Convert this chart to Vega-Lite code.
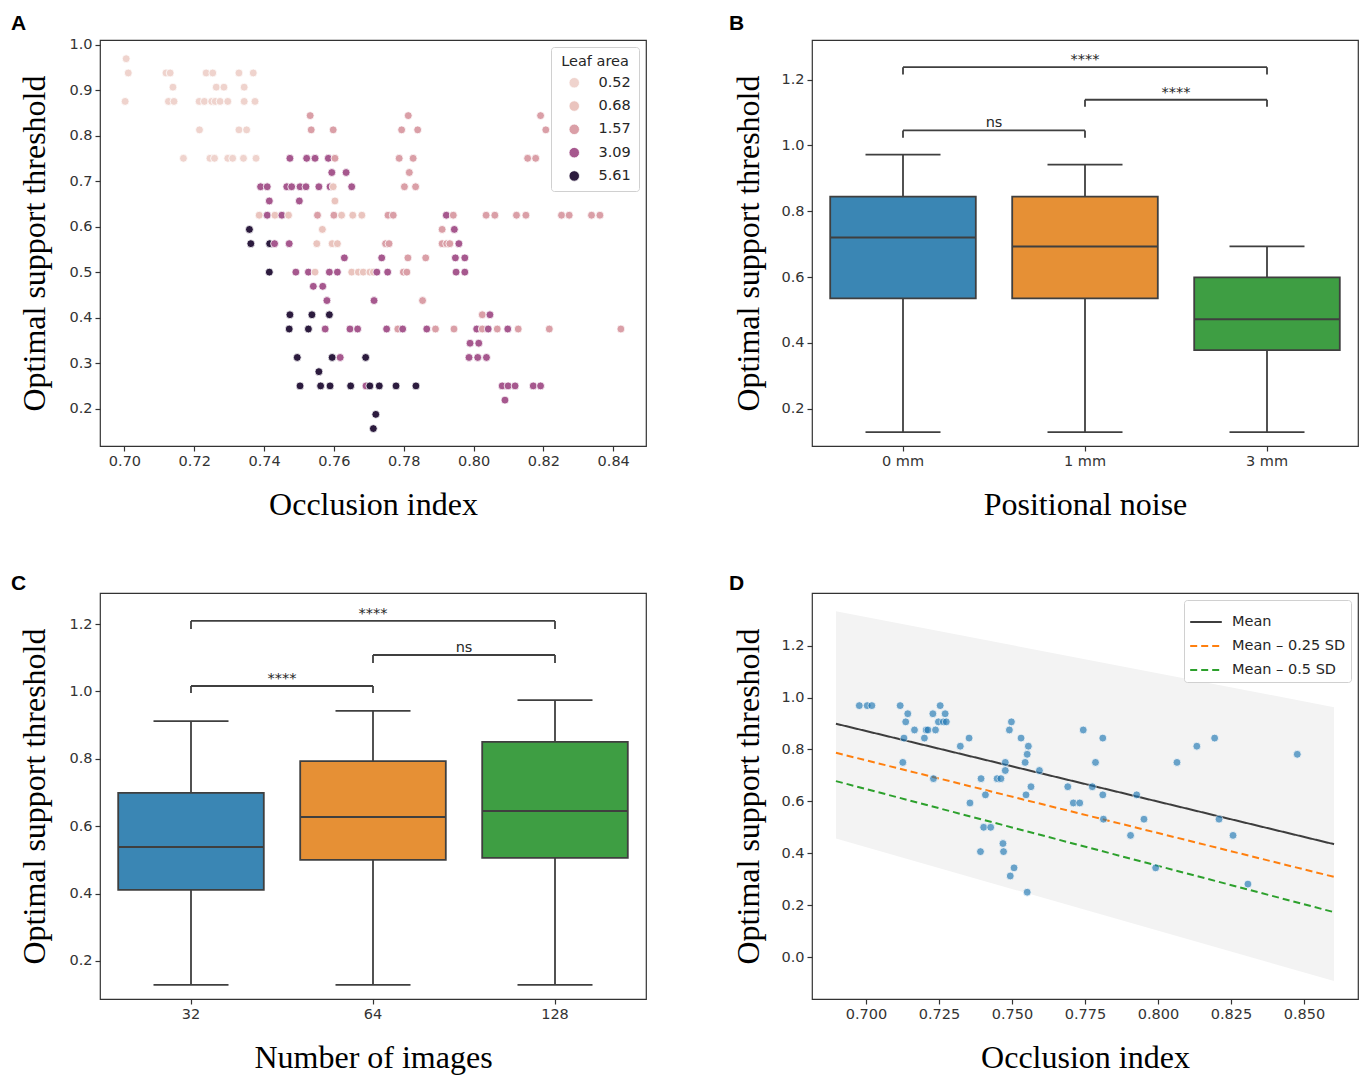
{
  "$schema": "https://vega.github.io/schema/vega-lite/v6.json",
  "padding": {"left": 10, "top": 11, "right": 0, "bottom": 0},
  "background": "white",
  "resolve": {"scale": {"color": "independent", "strokeDash": "independent", "x": "independent", "y": "independent"}, "legend": {"color": "independent", "strokeDash": "independent"}},
  "datasets": {
    "leaf": [
      {"x":0.7005,"y":0.9688,"la":"0.52"},
      {"x":0.7011,"y":0.9375,"la":"0.52"},{"x":0.7119,"y":0.9375,"la":"0.52"},{"x":0.7131,"y":0.9375,"la":"0.52"},{"x":0.7234,"y":0.9375,"la":"0.52"},{"x":0.7253,"y":0.9375,"la":"0.52"},{"x":0.7328,"y":0.9375,"la":"0.52"},{"x":0.7369,"y":0.9375,"la":"0.52"},
      {"x":0.7139,"y":0.9063,"la":"0.52"},{"x":0.7263,"y":0.9063,"la":"0.52"},{"x":0.7285,"y":0.9063,"la":"0.52"},{"x":0.7343,"y":0.9063,"la":"0.52"},
      {"x":0.7002,"y":0.875,"la":"0.52"},{"x":0.7126,"y":0.875,"la":"0.52"},{"x":0.7142,"y":0.875,"la":"0.52"},{"x":0.7214,"y":0.875,"la":"0.52"},{"x":0.7229,"y":0.875,"la":"0.52"},{"x":0.725,"y":0.875,"la":"0.52"},{"x":0.726,"y":0.875,"la":"0.52"},{"x":0.7274,"y":0.875,"la":"0.52"},{"x":0.7296,"y":0.875,"la":"0.52"},{"x":0.7343,"y":0.875,"la":"0.52"},{"x":0.7374,"y":0.875,"la":"0.52"},
      {"x":0.7532,"y":0.8438,"la":"1.57"},{"x":0.7813,"y":0.8438,"la":"1.57"},{"x":0.8192,"y":0.8438,"la":"1.57"},
      {"x":0.7215,"y":0.8125,"la":"0.52"},{"x":0.7328,"y":0.8125,"la":"0.52"},{"x":0.735,"y":0.8125,"la":"0.52"},{"x":0.7535,"y":0.8125,"la":"1.57"},{"x":0.7598,"y":0.8125,"la":"1.57"},{"x":0.7794,"y":0.8125,"la":"1.57"},{"x":0.784,"y":0.8125,"la":"1.57"},{"x":0.8207,"y":0.8125,"la":"1.57"},
      {"x":0.7169,"y":0.75,"la":"0.52"},{"x":0.7245,"y":0.75,"la":"0.52"},{"x":0.7258,"y":0.75,"la":"0.52"},{"x":0.7296,"y":0.75,"la":"0.52"},{"x":0.731,"y":0.75,"la":"0.52"},{"x":0.7341,"y":0.75,"la":"0.52"},{"x":0.7377,"y":0.75,"la":"0.52"},{"x":0.7474,"y":0.75,"la":"3.09"},{"x":0.7522,"y":0.75,"la":"3.09"},{"x":0.7546,"y":0.75,"la":"3.09"},{"x":0.7584,"y":0.75,"la":"3.09"},{"x":0.7603,"y":0.75,"la":"1.57"},{"x":0.7787,"y":0.75,"la":"1.57"},{"x":0.7827,"y":0.75,"la":"1.57"},{"x":0.8155,"y":0.75,"la":"1.57"},{"x":0.8178,"y":0.75,"la":"1.57"},
      {"x":0.7594,"y":0.7188,"la":"3.09"},{"x":0.7635,"y":0.7188,"la":"3.09"},{"x":0.7816,"y":0.7188,"la":"1.57"},
      {"x":0.739,"y":0.6875,"la":"3.09"},{"x":0.7409,"y":0.6875,"la":"3.09"},{"x":0.7465,"y":0.6875,"la":"3.09"},{"x":0.7479,"y":0.6875,"la":"3.09"},{"x":0.7503,"y":0.6875,"la":"3.09"},{"x":0.752,"y":0.6875,"la":"3.09"},{"x":0.7557,"y":0.6875,"la":"3.09"},{"x":0.7589,"y":0.6875,"la":"3.09"},{"x":0.7598,"y":0.6875,"la":"0.68"},{"x":0.7651,"y":0.6875,"la":"3.09"},{"x":0.7802,"y":0.6875,"la":"1.57"},{"x":0.7834,"y":0.6875,"la":"1.57"},
      {"x":0.7415,"y":0.6563,"la":"3.09"},{"x":0.7501,"y":0.6563,"la":"3.09"},{"x":0.7603,"y":0.6563,"la":"0.68"},
      {"x":0.7386,"y":0.625,"la":"0.68"},{"x":0.7409,"y":0.625,"la":"3.09"},{"x":0.7431,"y":0.625,"la":"0.68"},{"x":0.7451,"y":0.625,"la":"3.09"},{"x":0.747,"y":0.625,"la":"0.68"},{"x":0.7553,"y":0.625,"la":"1.57"},{"x":0.76,"y":0.625,"la":"1.57"},{"x":0.7622,"y":0.625,"la":"0.68"},{"x":0.7654,"y":0.625,"la":"0.68"},{"x":0.768,"y":0.625,"la":"0.68"},{"x":0.7755,"y":0.625,"la":"1.57"},{"x":0.777,"y":0.625,"la":"1.57"},{"x":0.7922,"y":0.625,"la":"3.09"},{"x":0.7942,"y":0.625,"la":"1.57"},{"x":0.8036,"y":0.625,"la":"1.57"},{"x":0.8061,"y":0.625,"la":"1.57"},{"x":0.8123,"y":0.625,"la":"1.57"},{"x":0.815,"y":0.625,"la":"1.57"},{"x":0.8252,"y":0.625,"la":"1.57"},{"x":0.8274,"y":0.625,"la":"1.57"},{"x":0.8338,"y":0.625,"la":"1.57"},{"x":0.8362,"y":0.625,"la":"1.57"},
      {"x":0.7358,"y":0.5938,"la":"5.61"},{"x":0.7567,"y":0.5938,"la":"0.68"},{"x":0.791,"y":0.5938,"la":"1.57"},{"x":0.7945,"y":0.5938,"la":"3.09"},
      {"x":0.7362,"y":0.5625,"la":"5.61"},{"x":0.7416,"y":0.5625,"la":"5.61"},{"x":0.743,"y":0.5625,"la":"3.09"},{"x":0.7472,"y":0.5625,"la":"3.09"},{"x":0.7551,"y":0.5625,"la":"0.68"},{"x":0.7595,"y":0.5625,"la":"0.68"},{"x":0.761,"y":0.5625,"la":"0.68"},{"x":0.7748,"y":0.5625,"la":"1.57"},{"x":0.7758,"y":0.5625,"la":"1.57"},{"x":0.791,"y":0.5625,"la":"1.57"},{"x":0.7923,"y":0.5625,"la":"1.57"},{"x":0.7932,"y":0.5625,"la":"1.57"},{"x":0.7958,"y":0.5625,"la":"3.09"},
      {"x":0.763,"y":0.5313,"la":"3.09"},{"x":0.7737,"y":0.5313,"la":"3.09"},{"x":0.7812,"y":0.5313,"la":"1.57"},{"x":0.7863,"y":0.5313,"la":"1.57"},{"x":0.7948,"y":0.5313,"la":"3.09"},{"x":0.7975,"y":0.5313,"la":"3.09"},
      {"x":0.7415,"y":0.5,"la":"5.61"},{"x":0.7491,"y":0.5,"la":"3.09"},{"x":0.7527,"y":0.5,"la":"3.09"},{"x":0.7546,"y":0.5,"la":"0.68"},{"x":0.7587,"y":0.5,"la":"3.09"},{"x":0.761,"y":0.5,"la":"3.09"},{"x":0.7651,"y":0.5,"la":"0.68"},{"x":0.767,"y":0.5,"la":"0.68"},{"x":0.7684,"y":0.5,"la":"0.68"},{"x":0.7703,"y":0.5,"la":"0.68"},{"x":0.7713,"y":0.5,"la":"0.68"},{"x":0.7723,"y":0.5,"la":"3.09"},{"x":0.7754,"y":0.5,"la":"3.09"},{"x":0.7799,"y":0.5,"la":"1.57"},{"x":0.7809,"y":0.5,"la":"1.57"},{"x":0.795,"y":0.5,"la":"3.09"},{"x":0.7975,"y":0.5,"la":"3.09"},
      {"x":0.7541,"y":0.4688,"la":"3.09"},{"x":0.7568,"y":0.4688,"la":"3.09"},
      {"x":0.758,"y":0.4375,"la":"3.09"},{"x":0.7715,"y":0.4375,"la":"3.09"},{"x":0.7854,"y":0.4375,"la":"1.57"},
      {"x":0.7474,"y":0.4063,"la":"5.61"},{"x":0.7537,"y":0.4063,"la":"5.61"},{"x":0.7587,"y":0.4063,"la":"5.61"},{"x":0.8025,"y":0.4063,"la":"1.57"},{"x":0.8047,"y":0.4063,"la":"3.09"},
      {"x":0.7472,"y":0.375,"la":"5.61"},{"x":0.7527,"y":0.375,"la":"5.61"},{"x":0.7575,"y":0.375,"la":"3.09"},{"x":0.7646,"y":0.375,"la":"3.09"},{"x":0.7668,"y":0.375,"la":"3.09"},{"x":0.7751,"y":0.375,"la":"3.09"},{"x":0.7783,"y":0.375,"la":"1.57"},{"x":0.7797,"y":0.375,"la":"3.09"},{"x":0.7866,"y":0.375,"la":"3.09"},{"x":0.7891,"y":0.375,"la":"1.57"},{"x":0.7944,"y":0.375,"la":"1.57"},{"x":0.8009,"y":0.375,"la":"3.09"},{"x":0.8025,"y":0.375,"la":"1.57"},{"x":0.8042,"y":0.375,"la":"3.09"},{"x":0.8068,"y":0.375,"la":"1.57"},{"x":0.8098,"y":0.375,"la":"3.09"},{"x":0.8128,"y":0.375,"la":"1.57"},{"x":0.8217,"y":0.375,"la":"1.57"},{"x":0.8422,"y":0.375,"la":"1.57"},
      {"x":0.799,"y":0.3438,"la":"3.09"},{"x":0.8015,"y":0.3438,"la":"3.09"},
      {"x":0.7495,"y":0.3125,"la":"5.61"},{"x":0.7595,"y":0.3125,"la":"5.61"},{"x":0.7618,"y":0.3125,"la":"3.09"},{"x":0.7691,"y":0.3125,"la":"5.61"},{"x":0.7987,"y":0.3125,"la":"3.09"},{"x":0.8012,"y":0.3125,"la":"3.09"},{"x":0.8037,"y":0.3125,"la":"3.09"},
      {"x":0.7557,"y":0.2813,"la":"5.61"},
      {"x":0.7503,"y":0.25,"la":"5.61"},{"x":0.7562,"y":0.25,"la":"5.61"},{"x":0.7589,"y":0.25,"la":"5.61"},{"x":0.7648,"y":0.25,"la":"5.61"},{"x":0.7692,"y":0.25,"la":"3.09"},{"x":0.7703,"y":0.25,"la":"5.61"},{"x":0.773,"y":0.25,"la":"5.61"},{"x":0.7778,"y":0.25,"la":"5.61"},{"x":0.7835,"y":0.25,"la":"5.61"},{"x":0.8082,"y":0.25,"la":"3.09"},{"x":0.8099,"y":0.25,"la":"3.09"},{"x":0.8119,"y":0.25,"la":"3.09"},{"x":0.8171,"y":0.25,"la":"3.09"},{"x":0.8192,"y":0.25,"la":"3.09"},
      {"x":0.809,"y":0.2188,"la":"3.09"},
      {"x":0.772,"y":0.1875,"la":"5.61"},
      {"x":0.7713,"y":0.1563,"la":"5.61"}
    ],
    "noiseBox": [
      {"g":"0 mm","lo":0.129,"q1":0.5355,"med":0.7203,"q3":0.8445,"hi":0.9718},
      {"g":"1 mm","lo":0.129,"q1":0.5355,"med":0.693,"q3":0.8445,"hi":0.9415},
      {"g":"3 mm","lo":0.129,"q1":0.3779,"med":0.472,"q3":0.5994,"hi":0.693}
    ],
    "noiseSig": [
      {"g1":"0 mm","g2":"1 mm","h":1.0455,"h2":1.0233,"lab":"ns","span":1},
      {"g1":"1 mm","g2":"3 mm","h":1.1385,"h2":1.117,"lab":"****","span":1},
      {"g1":"0 mm","g2":"3 mm","h":1.2376,"h2":1.215,"lab":"****","span":2}
    ],
    "imgBox": [
      {"g":"32","lo":0.129,"q1":0.411,"med":0.538,"q3":0.699,"hi":0.912},
      {"g":"64","lo":0.129,"q1":0.5,"med":0.627,"q3":0.793,"hi":0.942},
      {"g":"128","lo":0.129,"q1":0.506,"med":0.645,"q3":0.85,"hi":0.974}
    ],
    "imgSig": [
      {"g1":"32","g2":"64","h":1.016,"h2":0.995,"lab":"****","span":1},
      {"g1":"64","g2":"128","h":1.108,"h2":1.084,"lab":"ns","span":1},
      {"g1":"32","g2":"128","h":1.209,"h2":1.185,"lab":"****","span":2}
    ],
    "band": [
      {"x":0.6897,"lo":0.4565,"hi":1.332},
      {"x":0.8603,"lo":-0.092,"hi":0.963}
    ],
    "lines": [
      {"s":"Mean","x":0.6897,"y":0.899},{"s":"Mean","x":0.8603,"y":0.435},
      {"s":"Mean – 0.25 SD","x":0.6897,"y":0.787},{"s":"Mean – 0.25 SD","x":0.8603,"y":0.309},
      {"s":"Mean – 0.5 SD","x":0.6897,"y":0.678},{"s":"Mean – 0.5 SD","x":0.8603,"y":0.173}
    ],
    "occ": [
      {"x":0.6977,"y":0.9688},{"x":0.7004,"y":0.9688},{"x":0.702,"y":0.9688},{"x":0.7117,"y":0.9688},
      {"x":0.7143,"y":0.9375},{"x":0.7136,"y":0.9063},{"x":0.7166,"y":0.875},{"x":0.713,"y":0.8438},{"x":0.7126,"y":0.75},
      {"x":0.72,"y":0.8438},{"x":0.7206,"y":0.875},{"x":0.7212,"y":0.875},{"x":0.7238,"y":0.875},{"x":0.7229,"y":0.9375},
      {"x":0.7254,"y":0.9688},{"x":0.7271,"y":0.9375},{"x":0.7248,"y":0.9063},{"x":0.7265,"y":0.9063},{"x":0.7275,"y":0.9063},
      {"x":0.7231,"y":0.6875},{"x":0.7323,"y":0.8125},{"x":0.7353,"y":0.8438},{"x":0.7394,"y":0.6875},{"x":0.7409,"y":0.625},
      {"x":0.7356,"y":0.5938},{"x":0.7403,"y":0.5},{"x":0.7427,"y":0.5},{"x":0.7392,"y":0.4063},{"x":0.7469,"y":0.4375},
      {"x":0.7471,"y":0.4063},{"x":0.7507,"y":0.3438},{"x":0.7494,"y":0.3125},{"x":0.7552,"y":0.25},{"x":0.7449,"y":0.6875},
      {"x":0.7462,"y":0.6875},{"x":0.7477,"y":0.75},{"x":0.7477,"y":0.7188},{"x":0.7491,"y":0.875},{"x":0.7498,"y":0.9063},
      {"x":0.7531,"y":0.8438},{"x":0.7556,"y":0.8125},{"x":0.7552,"y":0.7813},{"x":0.7545,"y":0.75},{"x":0.7594,"y":0.7188},
      {"x":0.7565,"y":0.6563},{"x":0.7548,"y":0.625},{"x":0.7691,"y":0.6563},{"x":0.771,"y":0.5938},{"x":0.7732,"y":0.5938},
      {"x":0.7744,"y":0.875},{"x":0.7811,"y":0.8438},{"x":0.7786,"y":0.75},{"x":0.7775,"y":0.6563},{"x":0.7811,"y":0.625},
      {"x":0.7813,"y":0.5313},{"x":0.7927,"y":0.625},{"x":0.7952,"y":0.5313},{"x":0.7906,"y":0.4688},{"x":0.7992,"y":0.3438},
      {"x":0.8065,"y":0.75},{"x":0.8133,"y":0.8125},{"x":0.8194,"y":0.8438},{"x":0.8209,"y":0.5313},{"x":0.8257,"y":0.4688},
      {"x":0.8308,"y":0.2813},{"x":0.8477,"y":0.7813}
    ]
  },
  "columns": 2,
  "bounds": "flush",
  "spacing": {"row": 147, "column": 166},
  "concat": [
    {
      "width": 546, "height": 406,
      "title": {"text": "A", "dx": -89, "offset": 10, "dy": 24, "baseline": "alphabetic"},
      "data": {"name": "leaf"},
      "mark": {"type": "circle", "size": 62, "opacity": 1, "stroke": "white", "strokeWidth": 0.8},
      "encoding": {
        "x": {"field": "x", "type": "quantitative", "title": "Occlusion index",
              "scale": {"domain": [0.693, 0.8494], "nice": false, "zero": false},
              "axis": {"values": [0.7, 0.72, 0.74, 0.76, 0.78, 0.8, 0.82, 0.84], "format": ".2f"}},
        "y": {"field": "y", "type": "quantitative", "title": "Optimal support threshold",
              "scale": {"domain": [0.118, 1.0099], "nice": false, "zero": false},
              "axis": {"values": [0.2, 0.3, 0.4, 0.5, 0.6, 0.7, 0.8, 0.9, 1.0], "format": ".1f", "titlePadding": 17}},
        "color": {"field": "la", "type": "nominal",
                  "scale": {"domain": ["0.52", "0.68", "1.57", "3.09", "5.61"], "range": ["#efd3cd", "#eac4be", "#da9fa7", "#a6588e", "#2c1b3e"]},
                  "legend": {"title": "Leaf area", "orient": "top-right", "offset": 7, "fillColor": "white", "strokeColor": "#d0d0d0", "cornerRadius": 3, "padding": 8,
                             "titleFont": "DejaVu Sans", "titleFontSize": 14.5, "titleFontWeight": "normal", "titleColor": "#262626", "titleAnchor": "middle", "titlePadding": 6,
                             "labelFont": "DejaVu Sans", "labelFontSize": 14.5, "labelColor": "#262626", "symbolType": "circle", "symbolSize": 110, "symbolStrokeColor": "white", "symbolStrokeWidth": 0.8,
                             "rowPadding": 7.3, "labelOffset": 17, "symbolOffset": 8}}
      }
    },
    {
      "width": 546, "height": 406,
      "title": {"text": "B", "dx": -83, "offset": 13.5, "dy": 24, "baseline": "alphabetic"},
      "layer": [
        {
          "data": {"name": "noiseBox"},
          "mark": {"type": "rule", "color": "#3f3f3f", "strokeWidth": 1.8},
          "encoding": {
            "x": {"field": "g", "type": "nominal", "sort": null, "title": "Positional noise",
                  "scale": {"domain": ["0 mm", "1 mm", "3 mm"], "paddingInner": 0.2, "paddingOuter": 0.1},
                  "axis": {"labelAngle": 0, "bandPosition": 0.5}},
            "y": {"field": "lo", "type": "quantitative", "title": "Optimal support threshold",
                  "scale": {"domain": [0.087, 1.32], "nice": false, "zero": false},
                  "axis": {"values": [0.2, 0.4, 0.6, 0.8, 1.0, 1.2], "format": ".1f"}},
            "y2": {"field": "hi"}
          }
        },
        {
          "data": {"name": "noiseBox"},
          "mark": {"type": "tick", "size": 75, "thickness": 1.8, "color": "#3f3f3f", "opacity": 1},
          "encoding": {"x": {"field": "g", "type": "nominal", "sort": null, "title": "Positional noise"}, "y": {"field": "lo", "type": "quantitative", "title": "Optimal support threshold"}}
        },
        {
          "data": {"name": "noiseBox"},
          "mark": {"type": "tick", "size": 75, "thickness": 1.8, "color": "#3f3f3f", "opacity": 1},
          "encoding": {"x": {"field": "g", "type": "nominal", "sort": null, "title": "Positional noise"}, "y": {"field": "hi", "type": "quantitative", "title": "Optimal support threshold"}}
        },
        {
          "data": {"name": "noiseBox"},
          "mark": {"type": "bar", "stroke": "#3f3f3f", "strokeWidth": 1.8, "opacity": 1},
          "encoding": {
            "x": {"field": "g", "type": "nominal", "sort": null, "title": "Positional noise"},
            "y": {"field": "q1", "type": "quantitative", "title": "Optimal support threshold"},
            "y2": {"field": "q3"},
            "color": {"field": "g", "type": "nominal", "scale": {"domain": ["0 mm", "1 mm", "3 mm"], "range": ["#3a86b4", "#e69035", "#3e9e43"]}, "legend": null}
          }
        },
        {
          "data": {"name": "noiseBox"},
          "mark": {"type": "tick", "size": 146, "thickness": 2, "color": "#3f3f3f", "opacity": 1},
          "encoding": {"x": {"field": "g", "type": "nominal", "sort": null, "title": "Positional noise"}, "y": {"field": "med", "type": "quantitative", "title": "Optimal support threshold"}}
        },
        {
          "data": {"name": "noiseSig"},
          "mark": {"type": "rule", "color": "#3f3f3f", "strokeWidth": 1.8},
          "encoding": {
            "x": {"field": "g1", "type": "nominal", "sort": null, "bandPosition": 0.5, "title": "Positional noise"},
            "x2": {"field": "g2", "bandPosition": 0.5},
            "y": {"field": "h", "type": "quantitative", "title": "Optimal support threshold"}
          }
        },
        {
          "data": {"name": "noiseSig"},
          "mark": {"type": "rule", "color": "#3f3f3f", "strokeWidth": 1.8},
          "encoding": {
            "x": {"field": "g1", "type": "nominal", "sort": null, "bandPosition": 0.5, "title": "Positional noise"},
            "y": {"field": "h", "type": "quantitative", "title": "Optimal support threshold"},
            "y2": {"field": "h2"}
          }
        },
        {
          "data": {"name": "noiseSig"},
          "mark": {"type": "rule", "color": "#3f3f3f", "strokeWidth": 1.8},
          "encoding": {
            "x": {"field": "g2", "type": "nominal", "sort": null, "bandPosition": 0.5, "title": "Positional noise"},
            "y": {"field": "h", "type": "quantitative", "title": "Optimal support threshold"},
            "y2": {"field": "h2"}
          }
        },
        {
          "data": {"name": "noiseSig"},
          "transform": [{"filter": "datum.span == 1"}],
          "mark": {"type": "text", "font": "DejaVu Sans", "fontSize": 14.5, "baseline": "alphabetic", "dy": -3, "color": "#262626"},
          "encoding": {
            "x": {"field": "g1", "type": "nominal", "sort": null, "bandPosition": 1.125, "title": "Positional noise"},
            "y": {"field": "h", "type": "quantitative", "title": "Optimal support threshold"},
            "text": {"field": "lab"}
          }
        },
        {
          "data": {"name": "noiseSig"},
          "transform": [{"filter": "datum.span == 2"}],
          "mark": {"type": "text", "font": "DejaVu Sans", "fontSize": 14.5, "baseline": "alphabetic", "dy": -3, "color": "#262626"},
          "encoding": {
            "x": {"field": "g1", "type": "nominal", "sort": null, "bandPosition": 1.75, "title": "Positional noise"},
            "y": {"field": "h", "type": "quantitative", "title": "Optimal support threshold"},
            "text": {"field": "lab"}
          }
        }
      ]
    },
    {
      "width": 546, "height": 406,
      "title": {"text": "C", "dx": -89, "offset": 6.5, "dy": 24, "baseline": "alphabetic"},
      "layer": [
        {
          "data": {"name": "imgBox"},
          "mark": {"type": "rule", "color": "#3f3f3f", "strokeWidth": 1.8},
          "encoding": {
            "x": {"field": "g", "type": "nominal", "sort": null, "title": "Number of images",
                  "scale": {"domain": ["32", "64", "128"], "paddingInner": 0.2, "paddingOuter": 0.1},
                  "axis": {"labelAngle": 0, "bandPosition": 0.5}},
            "y": {"field": "lo", "type": "quantitative", "title": "Optimal support threshold",
                  "scale": {"domain": [0.0872, 1.292], "nice": false, "zero": false},
                  "axis": {"values": [0.2, 0.4, 0.6, 0.8, 1.0, 1.2], "format": ".1f", "titlePadding": 17}},
            "y2": {"field": "hi"}
          }
        },
        {
          "data": {"name": "imgBox"},
          "mark": {"type": "tick", "size": 75, "thickness": 1.8, "color": "#3f3f3f", "opacity": 1},
          "encoding": {"x": {"field": "g", "type": "nominal", "sort": null, "title": "Number of images"}, "y": {"field": "lo", "type": "quantitative", "title": "Optimal support threshold"}}
        },
        {
          "data": {"name": "imgBox"},
          "mark": {"type": "tick", "size": 75, "thickness": 1.8, "color": "#3f3f3f", "opacity": 1},
          "encoding": {"x": {"field": "g", "type": "nominal", "sort": null, "title": "Number of images"}, "y": {"field": "hi", "type": "quantitative", "title": "Optimal support threshold"}}
        },
        {
          "data": {"name": "imgBox"},
          "mark": {"type": "bar", "stroke": "#3f3f3f", "strokeWidth": 1.8, "opacity": 1},
          "encoding": {
            "x": {"field": "g", "type": "nominal", "sort": null, "title": "Number of images"},
            "y": {"field": "q1", "type": "quantitative", "title": "Optimal support threshold"},
            "y2": {"field": "q3"},
            "color": {"field": "g", "type": "nominal", "scale": {"domain": ["32", "64", "128"], "range": ["#3a86b4", "#e69035", "#3e9e43"]}, "legend": null}
          }
        },
        {
          "data": {"name": "imgBox"},
          "mark": {"type": "tick", "size": 146, "thickness": 2, "color": "#3f3f3f", "opacity": 1},
          "encoding": {"x": {"field": "g", "type": "nominal", "sort": null, "title": "Number of images"}, "y": {"field": "med", "type": "quantitative", "title": "Optimal support threshold"}}
        },
        {
          "data": {"name": "imgSig"},
          "mark": {"type": "rule", "color": "#3f3f3f", "strokeWidth": 1.8},
          "encoding": {
            "x": {"field": "g1", "type": "nominal", "sort": null, "bandPosition": 0.5, "title": "Number of images"},
            "x2": {"field": "g2", "bandPosition": 0.5},
            "y": {"field": "h", "type": "quantitative", "title": "Optimal support threshold"}
          }
        },
        {
          "data": {"name": "imgSig"},
          "mark": {"type": "rule", "color": "#3f3f3f", "strokeWidth": 1.8},
          "encoding": {
            "x": {"field": "g1", "type": "nominal", "sort": null, "bandPosition": 0.5, "title": "Number of images"},
            "y": {"field": "h", "type": "quantitative", "title": "Optimal support threshold"},
            "y2": {"field": "h2"}
          }
        },
        {
          "data": {"name": "imgSig"},
          "mark": {"type": "rule", "color": "#3f3f3f", "strokeWidth": 1.8},
          "encoding": {
            "x": {"field": "g2", "type": "nominal", "sort": null, "bandPosition": 0.5, "title": "Number of images"},
            "y": {"field": "h", "type": "quantitative", "title": "Optimal support threshold"},
            "y2": {"field": "h2"}
          }
        },
        {
          "data": {"name": "imgSig"},
          "transform": [{"filter": "datum.span == 1"}],
          "mark": {"type": "text", "font": "DejaVu Sans", "fontSize": 14.5, "baseline": "alphabetic", "dy": -3, "color": "#262626"},
          "encoding": {
            "x": {"field": "g1", "type": "nominal", "sort": null, "bandPosition": 1.125, "title": "Number of images"},
            "y": {"field": "h", "type": "quantitative", "title": "Optimal support threshold"},
            "text": {"field": "lab"}
          }
        },
        {
          "data": {"name": "imgSig"},
          "transform": [{"filter": "datum.span == 2"}],
          "mark": {"type": "text", "font": "DejaVu Sans", "fontSize": 14.5, "baseline": "alphabetic", "dy": -3, "color": "#262626"},
          "encoding": {
            "x": {"field": "g1", "type": "nominal", "sort": null, "bandPosition": 1.75, "title": "Number of images"},
            "y": {"field": "h", "type": "quantitative", "title": "Optimal support threshold"},
            "text": {"field": "lab"}
          }
        }
      ]
    },
    {
      "width": 546, "height": 406,
      "title": {"text": "D", "dx": -83, "offset": 6.5, "dy": 24, "baseline": "alphabetic"},
      "layer": [
        {
          "data": {"name": "band"},
          "mark": {"type": "area", "color": "#f3f3f3", "opacity": 1},
          "encoding": {
            "x": {"field": "x", "type": "quantitative", "title": "Occlusion index",
                  "scale": {"domain": [0.6815, 0.8685], "nice": false, "zero": false},
                  "axis": {"values": [0.7, 0.725, 0.75, 0.775, 0.8, 0.825, 0.85], "format": ".3f"}},
            "y": {"field": "hi", "type": "quantitative", "title": "Optimal support threshold",
                  "scale": {"domain": [-0.1615, 1.4027], "nice": false, "zero": false},
                  "axis": {"values": [0, 0.2, 0.4, 0.6, 0.8, 1.0, 1.2], "format": ".1f"}},
            "y2": {"field": "lo"}
          }
        },
        {
          "data": {"name": "lines"},
          "mark": {"type": "line", "strokeWidth": 2},
          "encoding": {
            "x": {"field": "x", "type": "quantitative", "title": "Occlusion index"},
            "y": {"field": "y", "type": "quantitative", "title": "Optimal support threshold"},
            "color": {"field": "s", "type": "nominal",
                      "scale": {"domain": ["Mean", "Mean – 0.25 SD", "Mean – 0.5 SD"], "range": ["#3d3d3d", "#ff7f0e", "#2ca02c"]},
                      "legend": {"title": null, "orient": "top-right", "offset": 7, "fillColor": "white", "strokeColor": "#d0d0d0", "cornerRadius": 3, "padding": 5,
                                 "labelFont": "DejaVu Sans", "labelFontSize": 14.5, "labelColor": "#262626", "symbolType": "stroke", "symbolSize": 1000, "symbolStrokeWidth": 2, "rowPadding": 0, "labelOffset": 9}},
            "strokeDash": {"field": "s", "type": "nominal",
                           "scale": {"domain": ["Mean", "Mean – 0.25 SD", "Mean – 0.5 SD"], "range": [[1, 0], [7, 4], [7, 4]]},
                           "legend": {"title": null, "orient": "top-right", "offset": 7, "fillColor": "white", "strokeColor": "#d0d0d0", "cornerRadius": 3, "padding": 5,
                                      "labelFont": "DejaVu Sans", "labelFontSize": 14.5, "labelColor": "#262626", "symbolType": "stroke", "symbolSize": 1000, "symbolStrokeWidth": 2, "rowPadding": 0, "labelOffset": 9}}
          }
        },
        {
          "data": {"name": "occ"},
          "mark": {"type": "circle", "size": 62, "color": "#1f77b4", "opacity": 0.65, "stroke": "white", "strokeWidth": 0.8},
          "encoding": {
            "x": {"field": "x", "type": "quantitative", "title": "Occlusion index"},
            "y": {"field": "y", "type": "quantitative", "title": "Optimal support threshold"}
          }
        }
      ]
    }
  ],
  "config": {
    "view": {"stroke": "#333333", "strokeWidth": 1.2},
    "axis": {"grid": false, "domain": false, "ticks": true, "tickColor": "#333333", "tickSize": 5, "tickWidth": 1.2,
             "labelFont": "DejaVu Sans", "labelFontSize": 14.5, "labelColor": "#333333", "labelPadding": 3,
             "titleFont": "Liberation Serif", "titleFontSize": 32, "titleFontWeight": "normal", "titleColor": "#000000"},
    "axisY": {"titlePadding": 15},
    "axisX": {"titlePadding": 22},
    "title": {"font": "Liberation Sans", "fontSize": 21, "fontWeight": "bold", "anchor": "start", "frame": "group", "color": "#000000"}
  }
}
